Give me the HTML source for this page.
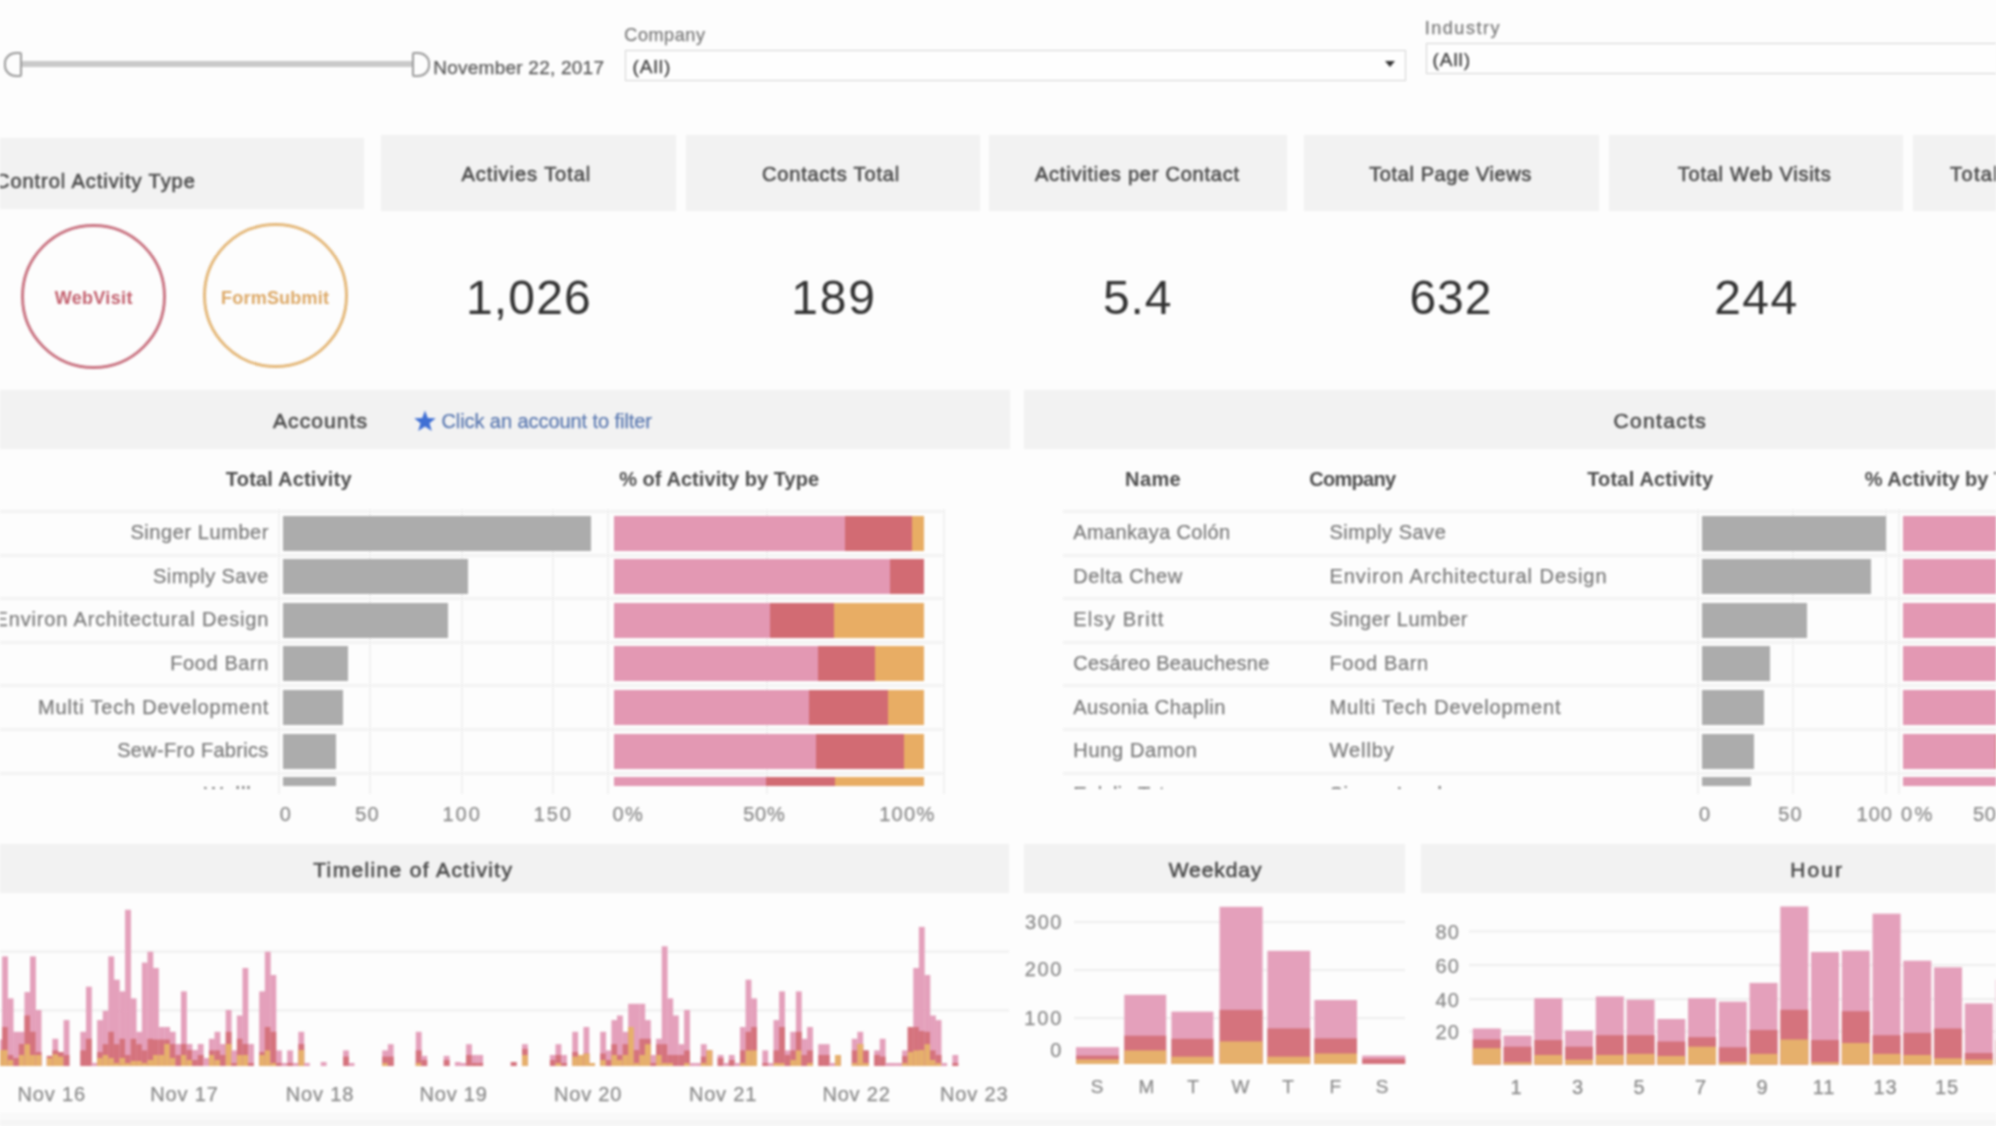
<!DOCTYPE html>
<html><head><meta charset="utf-8"><style>
html,body{margin:0;padding:0;}
body{width:1996px;height:1126px;overflow:hidden;position:relative;background:#fdfdfd;font-family:"Liberation Sans", sans-serif;}
#wrap{position:absolute;left:0;top:0;width:1996px;height:1126px;overflow:hidden;filter:blur(1px);}
</style></head><body><div id="wrap">
<div style="position:absolute;left:21.0px;top:61.0px;width:391.0px;height:5.5px;background:#c9c9c9;"></div>
<div style="position:absolute;left:4px;top:52px;width:14px;height:21px;border:2px solid #9a9a9a;border-radius:12px 2px 2px 12px/11px 2px 2px 11px;background:#fdfdfd"></div>
<div style="position:absolute;left:412px;top:52px;width:14px;height:21px;border:2px solid #9a9a9a;border-radius:2px 12px 12px 2px/2px 11px 11px 2px;background:#fdfdfd"></div>
<div style="position:absolute;left:433.3px;top:58.4px;font-size:19px;line-height:19px;height:19px;color:#595959;font-weight:400;letter-spacing:0.238px;white-space:nowrap;-webkit-text-stroke:0.25px #595959;">November 22, 2017</div>
<div style="position:absolute;left:624.3px;top:25.8px;font-size:18px;line-height:18px;height:18px;color:#7a7a7a;font-weight:400;letter-spacing:0.6px;white-space:nowrap;-webkit-text-stroke:0.25px #7a7a7a;">Company</div>
<div style="position:absolute;left:625px;top:50px;width:779px;height:29px;border:1.5px solid #d4d4d4;background:#fefefe"></div>
<div style="position:absolute;left:632.5px;top:56.9px;font-size:19px;line-height:19px;height:19px;color:#3a3a3a;font-weight:400;letter-spacing:1.0px;white-space:nowrap;-webkit-text-stroke:0.25px #3a3a3a;">(All)</div>
<div style="position:absolute;left:1385px;top:61px;width:0;height:0;border-left:5px solid transparent;border-right:5px solid transparent;border-top:6px solid #333"></div>
<div style="position:absolute;left:1424.8px;top:18.8px;font-size:18px;line-height:18px;height:18px;color:#7a7a7a;font-weight:400;letter-spacing:1.514px;white-space:nowrap;-webkit-text-stroke:0.25px #7a7a7a;">Industry</div>
<div style="position:absolute;left:1426px;top:43px;width:600px;height:29px;border:1.5px solid #d4d4d4;background:#fefefe"></div>
<div style="position:absolute;left:1432.4px;top:49.9px;font-size:19px;line-height:19px;height:19px;color:#3a3a3a;font-weight:400;letter-spacing:1.0px;white-space:nowrap;-webkit-text-stroke:0.25px #3a3a3a;">(All)</div>
<div style="position:absolute;left:0.0px;top:138.0px;width:364.0px;height:70.5px;background:#f2f2f2;"></div>
<div style="position:absolute;left:380.5px;top:135.0px;width:295.5px;height:76.0px;background:#f2f2f2;"></div>
<div style="position:absolute;left:-73.7px;width:1200px;text-align:center;top:164.1px;font-size:20px;line-height:20px;height:20px;color:#4d4d4d;font-weight:400;letter-spacing:0.954px;white-space:nowrap;-webkit-text-stroke:0.6px #4d4d4d;">Activies Total</div>
<div style="position:absolute;left:686.4px;top:135.0px;width:294.1px;height:76.0px;background:#f2f2f2;"></div>
<div style="position:absolute;left:231.0px;width:1200px;text-align:center;top:164.1px;font-size:20px;line-height:20px;height:20px;color:#4d4d4d;font-weight:400;letter-spacing:0.838px;white-space:nowrap;-webkit-text-stroke:0.6px #4d4d4d;">Contacts Total</div>
<div style="position:absolute;left:989.3px;top:135.0px;width:297.3px;height:76.0px;background:#f2f2f2;"></div>
<div style="position:absolute;left:537.4px;width:1200px;text-align:center;top:164.1px;font-size:20px;line-height:20px;height:20px;color:#4d4d4d;font-weight:400;letter-spacing:0.771px;white-space:nowrap;-webkit-text-stroke:0.6px #4d4d4d;">Activities per Contact</div>
<div style="position:absolute;left:1304.0px;top:135.0px;width:295.0px;height:76.0px;background:#f2f2f2;"></div>
<div style="position:absolute;left:850.6px;width:1200px;text-align:center;top:164.1px;font-size:20px;line-height:20px;height:20px;color:#4d4d4d;font-weight:400;letter-spacing:0.6px;white-space:nowrap;-webkit-text-stroke:0.6px #4d4d4d;">Total Page Views</div>
<div style="position:absolute;left:1609.3px;top:135.0px;width:293.7px;height:76.0px;background:#f2f2f2;"></div>
<div style="position:absolute;left:1154.6px;width:1200px;text-align:center;top:164.1px;font-size:20px;line-height:20px;height:20px;color:#4d4d4d;font-weight:400;letter-spacing:0.753px;white-space:nowrap;-webkit-text-stroke:0.6px #4d4d4d;">Total Web Visits</div>
<div style="position:absolute;left:-71.1px;width:1200px;text-align:center;top:273.9px;font-size:48px;line-height:48px;height:48px;color:#333;font-weight:300;letter-spacing:1.15px;white-space:nowrap;">1,026</div>
<div style="position:absolute;left:234.1px;width:1200px;text-align:center;top:273.9px;font-size:48px;line-height:48px;height:48px;color:#333;font-weight:300;letter-spacing:1.85px;white-space:nowrap;">189</div>
<div style="position:absolute;left:537.6px;width:1200px;text-align:center;top:273.9px;font-size:48px;line-height:48px;height:48px;color:#333;font-weight:300;letter-spacing:0.8px;white-space:nowrap;">5.4</div>
<div style="position:absolute;left:850.9px;width:1200px;text-align:center;top:273.9px;font-size:48px;line-height:48px;height:48px;color:#333;font-weight:300;letter-spacing:0.85px;white-space:nowrap;">632</div>
<div style="position:absolute;left:1156.4px;width:1200px;text-align:center;top:273.9px;font-size:48px;line-height:48px;height:48px;color:#333;font-weight:300;letter-spacing:1.35px;white-space:nowrap;">244</div>
<div style="position:absolute;left:1913.4px;top:135.0px;width:200.0px;height:76.0px;background:#f2f2f2;"></div>
<div style="position:absolute;left:1950.0px;top:164.1px;font-size:20px;line-height:20px;height:20px;color:#4d4d4d;font-weight:400;letter-spacing:1.377px;white-space:nowrap;-webkit-text-stroke:0.6px #4d4d4d;">Total Activity</div>
<div style="position:absolute;left:-5.0px;top:171.1px;font-size:20px;line-height:20px;height:20px;color:#4d4d4d;font-weight:400;letter-spacing:0.95px;white-space:nowrap;-webkit-text-stroke:0.6px #4d4d4d;">Control Activity Type</div>
<div style="position:absolute;left:21.0px;top:223.5px;width:139px;height:139px;border:3px solid #c97482;border-radius:50%"></div>
<div style="position:absolute;left:-506.3px;width:1200px;text-align:center;top:288.6px;font-size:18px;line-height:18px;height:18px;color:#c2606e;font-weight:700;letter-spacing:0.343px;white-space:nowrap;">WebVisit</div>
<div style="position:absolute;left:202.5px;top:222.5px;width:139px;height:139px;border:3px solid #e4b87a;border-radius:50%"></div>
<div style="position:absolute;left:-324.9px;width:1200px;text-align:center;top:288.6px;font-size:18px;line-height:18px;height:18px;color:#dca866;font-weight:700;letter-spacing:0.222px;white-space:nowrap;">FormSubmit</div>
<div style="position:absolute;left:0.0px;top:390.0px;width:1009.7px;height:59.0px;background:#f2f2f2;"></div>
<div style="position:absolute;left:1023.5px;top:390.0px;width:1000.0px;height:59.0px;background:#f2f2f2;"></div>
<div style="position:absolute;left:273.0px;top:410.2px;font-size:21px;line-height:21px;height:21px;color:#4d4d4d;font-weight:400;letter-spacing:1.071px;white-space:nowrap;-webkit-text-stroke:0.6px #4d4d4d;">Accounts</div>
<svg style="position:absolute;left:413px;top:410px" width="24" height="22" viewBox="0 0 24 22"><polygon points="12,0.5 14.8,8 22.8,8.2 16.5,13.2 18.8,21 12,16.5 5.2,21 7.5,13.2 1.2,8.2 9.2,8" fill="#3f6fd4"/></svg>
<div style="position:absolute;left:441.4px;top:411.1px;font-size:20px;line-height:20px;height:20px;color:#5a78b0;font-weight:400;letter-spacing:-0.068px;white-space:nowrap;-webkit-text-stroke:0.25px #5a78b0;">Click an account to filter</div>
<div style="position:absolute;left:1060.3px;width:1200px;text-align:center;top:410.2px;font-size:21px;line-height:21px;height:21px;color:#4d4d4d;font-weight:400;letter-spacing:1.371px;white-space:nowrap;-webkit-text-stroke:0.6px #4d4d4d;">Contacts</div>
<div style="position:absolute;left:-311.2px;width:1200px;text-align:center;top:469.1px;font-size:20px;line-height:20px;height:20px;color:#4d4d4d;font-weight:700;letter-spacing:0.185px;white-space:nowrap;">Total Activity</div>
<div style="position:absolute;left:119.2px;width:1200px;text-align:center;top:469.1px;font-size:20px;line-height:20px;height:20px;color:#4d4d4d;font-weight:700;letter-spacing:0.055px;white-space:nowrap;">% of Activity by Type</div>
<div style="position:absolute;left:0.0px;top:510.0px;width:943.0px;height:3.0px;background:#f3f3f3;"></div>
<div style="position:absolute;left:0.0px;top:553.6px;width:943.0px;height:3.0px;background:#f3f3f3;"></div>
<div style="position:absolute;left:0.0px;top:597.2px;width:943.0px;height:3.0px;background:#f3f3f3;"></div>
<div style="position:absolute;left:0.0px;top:640.8px;width:943.0px;height:3.0px;background:#f3f3f3;"></div>
<div style="position:absolute;left:0.0px;top:684.4px;width:943.0px;height:3.0px;background:#f3f3f3;"></div>
<div style="position:absolute;left:0.0px;top:728.0px;width:943.0px;height:3.0px;background:#f3f3f3;"></div>
<div style="position:absolute;left:0.0px;top:771.6px;width:943.0px;height:3.0px;background:#f3f3f3;"></div>
<div style="position:absolute;left:278.0px;top:509.0px;width:1.5px;height:285.0px;background:#f2f2f2;"></div>
<div style="position:absolute;left:369.0px;top:509.0px;width:1.5px;height:285.0px;background:#f2f2f2;"></div>
<div style="position:absolute;left:461.0px;top:509.0px;width:1.5px;height:285.0px;background:#f2f2f2;"></div>
<div style="position:absolute;left:552.0px;top:509.0px;width:1.5px;height:285.0px;background:#f2f2f2;"></div>
<div style="position:absolute;left:607.0px;top:509.0px;width:1.5px;height:285.0px;background:#f2f2f2;"></div>
<div style="position:absolute;left:766.0px;top:509.0px;width:1.5px;height:285.0px;background:#f2f2f2;"></div>
<div style="position:absolute;left:943.0px;top:509.0px;width:1.5px;height:285.0px;background:#f2f2f2;"></div>
<div style="position:absolute;left:283.0px;top:515.5px;width:308.0px;height:35.0px;background:#acacac;"></div>
<div style="position:absolute;left:613.5px;top:515.5px;width:231.2px;height:35.0px;background:#e398b3;"></div>
<div style="position:absolute;left:844.7px;top:515.5px;width:67.6px;height:35.0px;background:#d26b73;"></div>
<div style="position:absolute;left:912.3px;top:515.5px;width:11.7px;height:35.0px;background:#e8ad64;"></div>
<div style="position:absolute;right:1727.0px;text-align:right;top:522.1px;font-size:20px;line-height:20px;height:20px;color:#7b7b7b;font-weight:400;letter-spacing:0.567px;white-space:nowrap;-webkit-text-stroke:0.25px #7b7b7b;">Singer Lumber</div>
<div style="position:absolute;left:283.0px;top:559.1px;width:185.0px;height:35.0px;background:#acacac;"></div>
<div style="position:absolute;left:613.5px;top:559.1px;width:276.9px;height:35.0px;background:#e398b3;"></div>
<div style="position:absolute;left:890.4px;top:559.1px;width:34.0px;height:35.0px;background:#d26b73;"></div>
<div style="position:absolute;left:924.4px;top:559.1px;width:-0.4px;height:35.0px;background:#e8ad64;"></div>
<div style="position:absolute;right:1727.2px;text-align:right;top:565.7px;font-size:20px;line-height:20px;height:20px;color:#7b7b7b;font-weight:400;letter-spacing:0.42px;white-space:nowrap;-webkit-text-stroke:0.25px #7b7b7b;">Simply Save</div>
<div style="position:absolute;left:283.0px;top:602.7px;width:165.0px;height:35.0px;background:#acacac;"></div>
<div style="position:absolute;left:613.5px;top:602.7px;width:156.8px;height:35.0px;background:#e398b3;"></div>
<div style="position:absolute;left:770.3px;top:602.7px;width:64.0px;height:35.0px;background:#d26b73;"></div>
<div style="position:absolute;left:834.3px;top:602.7px;width:89.7px;height:35.0px;background:#e8ad64;"></div>
<div style="position:absolute;right:1726.8px;text-align:right;top:609.3px;font-size:20px;line-height:20px;height:20px;color:#7b7b7b;font-weight:400;letter-spacing:0.837px;white-space:nowrap;-webkit-text-stroke:0.25px #7b7b7b;">Environ Architectural Design</div>
<div style="position:absolute;left:283.0px;top:646.3px;width:65.0px;height:35.0px;background:#acacac;"></div>
<div style="position:absolute;left:613.5px;top:646.3px;width:204.5px;height:35.0px;background:#e398b3;"></div>
<div style="position:absolute;left:818.0px;top:646.3px;width:57.2px;height:35.0px;background:#d26b73;"></div>
<div style="position:absolute;left:875.2px;top:646.3px;width:48.8px;height:35.0px;background:#e8ad64;"></div>
<div style="position:absolute;right:1727.0px;text-align:right;top:652.9px;font-size:20px;line-height:20px;height:20px;color:#7b7b7b;font-weight:400;letter-spacing:0.588px;white-space:nowrap;-webkit-text-stroke:0.25px #7b7b7b;">Food Barn</div>
<div style="position:absolute;left:283.0px;top:689.9px;width:60.0px;height:35.0px;background:#acacac;"></div>
<div style="position:absolute;left:613.5px;top:689.9px;width:195.9px;height:35.0px;background:#e398b3;"></div>
<div style="position:absolute;left:809.4px;top:689.9px;width:78.6px;height:35.0px;background:#d26b73;"></div>
<div style="position:absolute;left:888.0px;top:689.9px;width:36.0px;height:35.0px;background:#e8ad64;"></div>
<div style="position:absolute;right:1726.8px;text-align:right;top:696.5px;font-size:20px;line-height:20px;height:20px;color:#7b7b7b;font-weight:400;letter-spacing:0.819px;white-space:nowrap;-webkit-text-stroke:0.25px #7b7b7b;">Multi Tech Development</div>
<div style="position:absolute;left:283.0px;top:733.5px;width:53.0px;height:35.0px;background:#acacac;"></div>
<div style="position:absolute;left:613.5px;top:733.5px;width:202.5px;height:35.0px;background:#e398b3;"></div>
<div style="position:absolute;left:816.0px;top:733.5px;width:87.6px;height:35.0px;background:#d26b73;"></div>
<div style="position:absolute;left:903.6px;top:733.5px;width:20.4px;height:35.0px;background:#e8ad64;"></div>
<div style="position:absolute;right:1727.3px;text-align:right;top:740.1px;font-size:20px;line-height:20px;height:20px;color:#7b7b7b;font-weight:400;letter-spacing:0.321px;white-space:nowrap;-webkit-text-stroke:0.25px #7b7b7b;">Sew-Fro Fabrics</div>
<div style="position:absolute;left:283.0px;top:777.1px;width:53.0px;height:9.0px;background:#acacac;"></div>
<div style="position:absolute;left:613.5px;top:777.1px;width:152.3px;height:9.0px;background:#e398b3;"></div>
<div style="position:absolute;left:765.8px;top:777.1px;width:69.2px;height:9.0px;background:#d26b73;"></div>
<div style="position:absolute;left:835.0px;top:777.1px;width:89.0px;height:9.0px;background:#e8ad64;"></div>
<div style="position:absolute;left:-314.7px;width:1200px;text-align:center;top:803.9px;font-size:20px;line-height:20px;height:20px;color:#8a8a8a;font-weight:400;white-space:nowrap;-webkit-text-stroke:0.25px #8a8a8a;">0</div>
<div style="position:absolute;left:-232.5px;width:1200px;text-align:center;top:803.9px;font-size:20px;line-height:20px;height:20px;color:#8a8a8a;font-weight:400;letter-spacing:1.2px;white-space:nowrap;-webkit-text-stroke:0.25px #8a8a8a;">50</div>
<div style="position:absolute;left:-137.9px;width:1200px;text-align:center;top:803.9px;font-size:20px;line-height:20px;height:20px;color:#8a8a8a;font-weight:400;letter-spacing:2.0px;white-space:nowrap;-webkit-text-stroke:0.25px #8a8a8a;">100</div>
<div style="position:absolute;left:-46.7px;width:1200px;text-align:center;top:803.9px;font-size:20px;line-height:20px;height:20px;color:#8a8a8a;font-weight:400;letter-spacing:1.95px;white-space:nowrap;-webkit-text-stroke:0.25px #8a8a8a;">150</div>
<div style="position:absolute;left:612.4px;top:803.9px;font-size:20px;line-height:20px;height:20px;color:#8a8a8a;font-weight:400;letter-spacing:1.4px;white-space:nowrap;-webkit-text-stroke:0.25px #8a8a8a;">0%</div>
<div style="position:absolute;left:164.4px;width:1200px;text-align:center;top:803.9px;font-size:20px;line-height:20px;height:20px;color:#8a8a8a;font-weight:400;letter-spacing:0.75px;white-space:nowrap;-webkit-text-stroke:0.25px #8a8a8a;">50%</div>
<div style="position:absolute;right:1060.5px;text-align:right;top:803.9px;font-size:20px;line-height:20px;height:20px;color:#8a8a8a;font-weight:400;letter-spacing:1.3px;white-space:nowrap;-webkit-text-stroke:0.25px #8a8a8a;">100%</div>
<div style="position:absolute;left:553.1px;width:1200px;text-align:center;top:469.1px;font-size:20px;line-height:20px;height:20px;color:#4d4d4d;font-weight:700;letter-spacing:0.367px;white-space:nowrap;">Name</div>
<div style="position:absolute;left:752.3px;width:1200px;text-align:center;top:469.1px;font-size:20px;line-height:20px;height:20px;color:#4d4d4d;font-weight:700;letter-spacing:-0.683px;white-space:nowrap;">Company</div>
<div style="position:absolute;left:1050.2px;width:1200px;text-align:center;top:469.1px;font-size:20px;line-height:20px;height:20px;color:#4d4d4d;font-weight:700;letter-spacing:0.192px;white-space:nowrap;">Total Activity</div>
<div style="position:absolute;left:1864.7px;top:469.1px;font-size:20px;line-height:20px;height:20px;color:#4d4d4d;font-weight:700;white-space:nowrap;">% Activity by Type</div>
<div style="position:absolute;left:1063.0px;top:510.0px;width:940.0px;height:3.0px;background:#f3f3f3;"></div>
<div style="position:absolute;left:1063.0px;top:553.6px;width:940.0px;height:3.0px;background:#f3f3f3;"></div>
<div style="position:absolute;left:1063.0px;top:597.2px;width:940.0px;height:3.0px;background:#f3f3f3;"></div>
<div style="position:absolute;left:1063.0px;top:640.8px;width:940.0px;height:3.0px;background:#f3f3f3;"></div>
<div style="position:absolute;left:1063.0px;top:684.4px;width:940.0px;height:3.0px;background:#f3f3f3;"></div>
<div style="position:absolute;left:1063.0px;top:728.0px;width:940.0px;height:3.0px;background:#f3f3f3;"></div>
<div style="position:absolute;left:1063.0px;top:771.6px;width:940.0px;height:3.0px;background:#f3f3f3;"></div>
<div style="position:absolute;left:1697.0px;top:509.0px;width:1.5px;height:285.0px;background:#f2f2f2;"></div>
<div style="position:absolute;left:1792.0px;top:509.0px;width:1.5px;height:285.0px;background:#f2f2f2;"></div>
<div style="position:absolute;left:1885.0px;top:509.0px;width:1.5px;height:285.0px;background:#f2f2f2;"></div>
<div style="position:absolute;left:1898.0px;top:509.0px;width:1.5px;height:285.0px;background:#f2f2f2;"></div>
<div style="position:absolute;left:1702.0px;top:515.5px;width:184.0px;height:35.0px;background:#acacac;"></div>
<div style="position:absolute;left:1903.0px;top:515.5px;width:200.0px;height:35.0px;background:#e398b3;"></div>
<div style="position:absolute;left:1073.3px;top:522.1px;font-size:20px;line-height:20px;height:20px;color:#7b7b7b;font-weight:400;letter-spacing:0.354px;white-space:nowrap;-webkit-text-stroke:0.25px #7b7b7b;">Amankaya Colón</div>
<div style="position:absolute;left:1329.5px;top:522.1px;font-size:20px;line-height:20px;height:20px;color:#7b7b7b;font-weight:400;letter-spacing:0.51px;white-space:nowrap;-webkit-text-stroke:0.25px #7b7b7b;">Simply Save</div>
<div style="position:absolute;left:1702.0px;top:559.1px;width:168.6px;height:35.0px;background:#acacac;"></div>
<div style="position:absolute;left:1903.0px;top:559.1px;width:200.0px;height:35.0px;background:#e398b3;"></div>
<div style="position:absolute;left:1073.3px;top:565.7px;font-size:20px;line-height:20px;height:20px;color:#7b7b7b;font-weight:400;letter-spacing:0.611px;white-space:nowrap;-webkit-text-stroke:0.25px #7b7b7b;">Delta Chew</div>
<div style="position:absolute;left:1329.5px;top:565.7px;font-size:20px;line-height:20px;height:20px;color:#7b7b7b;font-weight:400;letter-spacing:0.956px;white-space:nowrap;-webkit-text-stroke:0.25px #7b7b7b;">Environ Architectural Design</div>
<div style="position:absolute;left:1702.0px;top:602.7px;width:104.6px;height:35.0px;background:#acacac;"></div>
<div style="position:absolute;left:1903.0px;top:602.7px;width:200.0px;height:35.0px;background:#e398b3;"></div>
<div style="position:absolute;left:1073.3px;top:609.3px;font-size:20px;line-height:20px;height:20px;color:#7b7b7b;font-weight:400;letter-spacing:1.233px;white-space:nowrap;-webkit-text-stroke:0.25px #7b7b7b;">Elsy Britt</div>
<div style="position:absolute;left:1329.5px;top:609.3px;font-size:20px;line-height:20px;height:20px;color:#7b7b7b;font-weight:400;letter-spacing:0.567px;white-space:nowrap;-webkit-text-stroke:0.25px #7b7b7b;">Singer Lumber</div>
<div style="position:absolute;left:1702.0px;top:646.3px;width:67.5px;height:35.0px;background:#acacac;"></div>
<div style="position:absolute;left:1903.0px;top:646.3px;width:200.0px;height:35.0px;background:#e398b3;"></div>
<div style="position:absolute;left:1073.3px;top:652.9px;font-size:20px;line-height:20px;height:20px;color:#7b7b7b;font-weight:400;letter-spacing:0.212px;white-space:nowrap;-webkit-text-stroke:0.25px #7b7b7b;">Cesáreo Beauchesne</div>
<div style="position:absolute;left:1329.5px;top:652.9px;font-size:20px;line-height:20px;height:20px;color:#7b7b7b;font-weight:400;letter-spacing:0.65px;white-space:nowrap;-webkit-text-stroke:0.25px #7b7b7b;">Food Barn</div>
<div style="position:absolute;left:1702.0px;top:689.9px;width:62.4px;height:35.0px;background:#acacac;"></div>
<div style="position:absolute;left:1903.0px;top:689.9px;width:200.0px;height:35.0px;background:#e398b3;"></div>
<div style="position:absolute;left:1073.3px;top:696.5px;font-size:20px;line-height:20px;height:20px;color:#7b7b7b;font-weight:400;letter-spacing:0.457px;white-space:nowrap;-webkit-text-stroke:0.25px #7b7b7b;">Ausonia Chaplin</div>
<div style="position:absolute;left:1329.5px;top:696.5px;font-size:20px;line-height:20px;height:20px;color:#7b7b7b;font-weight:400;letter-spacing:0.857px;white-space:nowrap;-webkit-text-stroke:0.25px #7b7b7b;">Multi Tech Development</div>
<div style="position:absolute;left:1702.0px;top:733.5px;width:52.4px;height:35.0px;background:#acacac;"></div>
<div style="position:absolute;left:1903.0px;top:733.5px;width:200.0px;height:35.0px;background:#e398b3;"></div>
<div style="position:absolute;left:1994.5px;top:733.5px;width:5.0px;height:35.0px;background:#d26b73;"></div>
<div style="position:absolute;left:1073.3px;top:740.1px;font-size:20px;line-height:20px;height:20px;color:#7b7b7b;font-weight:400;letter-spacing:0.644px;white-space:nowrap;-webkit-text-stroke:0.25px #7b7b7b;">Hung Damon</div>
<div style="position:absolute;left:1329.5px;top:740.1px;font-size:20px;line-height:20px;height:20px;color:#7b7b7b;font-weight:400;letter-spacing:0.94px;white-space:nowrap;-webkit-text-stroke:0.25px #7b7b7b;">Wellby</div>
<div style="position:absolute;left:1702.0px;top:777.1px;width:48.6px;height:8.5px;background:#acacac;"></div>
<div style="position:absolute;left:1903.0px;top:777.1px;width:200.0px;height:8.5px;background:#e398b3;"></div>
<div style="position:absolute;left:1104.5px;width:1200px;text-align:center;top:803.9px;font-size:20px;line-height:20px;height:20px;color:#8a8a8a;font-weight:400;white-space:nowrap;-webkit-text-stroke:0.25px #8a8a8a;">0</div>
<div style="position:absolute;left:1190.6px;width:1200px;text-align:center;top:803.9px;font-size:20px;line-height:20px;height:20px;color:#8a8a8a;font-weight:400;letter-spacing:1.2px;white-space:nowrap;-webkit-text-stroke:0.25px #8a8a8a;">50</div>
<div style="position:absolute;right:103.0px;text-align:right;top:803.9px;font-size:20px;line-height:20px;height:20px;color:#8a8a8a;font-weight:400;letter-spacing:1.05px;white-space:nowrap;-webkit-text-stroke:0.25px #8a8a8a;">100</div>
<div style="position:absolute;left:1901.0px;top:803.9px;font-size:20px;line-height:20px;height:20px;color:#8a8a8a;font-weight:400;letter-spacing:2.5px;white-space:nowrap;-webkit-text-stroke:0.25px #8a8a8a;">0%</div>
<div style="position:absolute;left:1973.0px;top:803.9px;font-size:20px;line-height:20px;height:20px;color:#8a8a8a;font-weight:400;letter-spacing:0.75px;white-space:nowrap;-webkit-text-stroke:0.25px #8a8a8a;">50%</div>
<div style="position:absolute;left:0.0px;top:843.5px;width:1009.0px;height:49.5px;background:#f2f2f2;"></div>
<div style="position:absolute;left:1024.0px;top:843.5px;width:381.3px;height:49.5px;background:#f2f2f2;"></div>
<div style="position:absolute;left:1421.0px;top:843.5px;width:600.0px;height:49.5px;background:#f2f2f2;"></div>
<div style="position:absolute;left:-186.7px;width:1200px;text-align:center;top:858.7px;font-size:21px;line-height:21px;height:21px;color:#4d4d4d;font-weight:400;letter-spacing:1.353px;white-space:nowrap;-webkit-text-stroke:0.6px #4d4d4d;">Timeline of Activity</div>
<div style="position:absolute;left:615.5px;width:1200px;text-align:center;top:858.7px;font-size:21px;line-height:21px;height:21px;color:#4d4d4d;font-weight:400;letter-spacing:0.933px;white-space:nowrap;-webkit-text-stroke:0.6px #4d4d4d;">Weekday</div>
<div style="position:absolute;left:1217.2px;width:1200px;text-align:center;top:858.7px;font-size:21px;line-height:21px;height:21px;color:#4d4d4d;font-weight:400;letter-spacing:2.1px;white-space:nowrap;-webkit-text-stroke:0.6px #4d4d4d;">Hour</div>
<div style="position:absolute;left:0.0px;top:1113.0px;width:1996.0px;height:7.0px;background:#f9f9f9;"></div>
<div style="position:absolute;left:0.0px;top:1120.0px;width:1996.0px;height:6.0px;background:#f5f5f5;"></div>
<div style="position:absolute;left:0;top:785px;width:1996px;height:4px;overflow:hidden"><div style="position:absolute;left:0;top:-785px;width:1996px;height:1126px"><div style="position:absolute;right:1726.7px;text-align:right;top:783.7px;font-size:20px;line-height:20px;height:20px;color:#7b7b7b;font-weight:400;letter-spacing:0.94px;white-space:nowrap;-webkit-text-stroke:0.25px #7b7b7b;">Wellby</div><div style="position:absolute;left:1073.3px;top:783.7px;font-size:20px;line-height:20px;height:20px;color:#7b7b7b;font-weight:400;letter-spacing:-0.055px;white-space:nowrap;-webkit-text-stroke:0.25px #7b7b7b;">Eulalia Tate</div><div style="position:absolute;left:1329.5px;top:783.7px;font-size:20px;line-height:20px;height:20px;color:#7b7b7b;font-weight:400;letter-spacing:0.567px;white-space:nowrap;-webkit-text-stroke:0.25px #7b7b7b;">Singer Lumber</div></div></div>
<svg style="position:absolute;left:0;top:0" width="1996" height="1126" viewBox="0 0 1996 1126"><rect x="0.00" y="950.50" width="1009.00" height="2.20" fill="#efefef"/><rect x="0.00" y="1009.30" width="1009.00" height="2.20" fill="#efefef"/><rect x="0.00" y="1039.50" width="2.35" height="26.50" fill="#e4a0bb"/><rect x="0.00" y="1050.00" width="2.35" height="16.00" fill="#d5737d"/><rect x="0.00" y="1050.00" width="2.35" height="16.00" fill="#e6b06c"/><rect x="2.10" y="956.40" width="5.84" height="109.60" fill="#e4a0bb"/><rect x="2.10" y="1027.00" width="5.84" height="39.00" fill="#d5737d"/><rect x="2.10" y="1050.00" width="5.84" height="16.00" fill="#e6b06c"/><rect x="7.69" y="998.40" width="5.84" height="67.60" fill="#e4a0bb"/><rect x="7.69" y="1055.00" width="5.84" height="11.00" fill="#d5737d"/><rect x="7.69" y="1060.00" width="5.84" height="6.00" fill="#e6b06c"/><rect x="13.28" y="1031.80" width="5.84" height="34.20" fill="#e4a0bb"/><rect x="13.28" y="1058.00" width="5.84" height="8.00" fill="#d5737d"/><rect x="18.87" y="1031.80" width="5.84" height="34.20" fill="#e4a0bb"/><rect x="18.87" y="1044.00" width="5.84" height="22.00" fill="#d5737d"/><rect x="18.87" y="1055.00" width="5.84" height="11.00" fill="#e6b06c"/><rect x="24.46" y="992.10" width="5.84" height="73.90" fill="#e4a0bb"/><rect x="24.46" y="1015.50" width="5.84" height="50.50" fill="#d5737d"/><rect x="24.46" y="1044.20" width="5.84" height="21.80" fill="#e6b06c"/><rect x="30.05" y="956.40" width="5.84" height="109.60" fill="#e4a0bb"/><rect x="30.05" y="1031.80" width="5.84" height="34.20" fill="#d5737d"/><rect x="30.05" y="1055.00" width="5.84" height="11.00" fill="#e6b06c"/><rect x="35.64" y="1010.00" width="5.84" height="56.00" fill="#e4a0bb"/><rect x="35.64" y="1052.00" width="5.84" height="14.00" fill="#d5737d"/><rect x="35.64" y="1055.00" width="5.84" height="11.00" fill="#e6b06c"/><rect x="46.82" y="1055.90" width="5.84" height="10.10" fill="#e4a0bb"/><rect x="46.82" y="1055.90" width="5.84" height="10.10" fill="#d5737d"/><rect x="46.82" y="1058.00" width="5.84" height="8.00" fill="#e6b06c"/><rect x="52.41" y="1038.80" width="5.84" height="27.20" fill="#e4a0bb"/><rect x="52.41" y="1050.40" width="5.84" height="15.60" fill="#d5737d"/><rect x="52.41" y="1054.30" width="5.84" height="11.70" fill="#e6b06c"/><rect x="58.00" y="1052.00" width="5.84" height="14.00" fill="#e4a0bb"/><rect x="58.00" y="1052.00" width="5.84" height="14.00" fill="#d5737d"/><rect x="58.00" y="1056.60" width="5.84" height="9.40" fill="#e6b06c"/><rect x="63.59" y="1020.10" width="5.84" height="45.90" fill="#e4a0bb"/><rect x="63.59" y="1055.00" width="5.84" height="11.00" fill="#d5737d"/><rect x="80.36" y="1031.80" width="5.84" height="34.20" fill="#e4a0bb"/><rect x="80.36" y="1050.40" width="5.84" height="15.60" fill="#d5737d"/><rect x="85.95" y="986.70" width="5.84" height="79.30" fill="#e4a0bb"/><rect x="85.95" y="1038.80" width="5.84" height="27.20" fill="#d5737d"/><rect x="91.54" y="1062.90" width="5.84" height="3.10" fill="#e4a0bb"/><rect x="97.13" y="1020.10" width="5.84" height="45.90" fill="#e4a0bb"/><rect x="97.13" y="1052.00" width="5.84" height="14.00" fill="#d5737d"/><rect x="97.13" y="1058.00" width="5.84" height="8.00" fill="#e6b06c"/><rect x="102.72" y="1010.80" width="5.84" height="55.20" fill="#e4a0bb"/><rect x="102.72" y="1044.20" width="5.84" height="21.80" fill="#d5737d"/><rect x="102.72" y="1055.00" width="5.84" height="11.00" fill="#e6b06c"/><rect x="108.31" y="956.40" width="5.84" height="109.60" fill="#e4a0bb"/><rect x="108.31" y="1031.80" width="5.84" height="34.20" fill="#d5737d"/><rect x="108.31" y="1058.00" width="5.84" height="8.00" fill="#e6b06c"/><rect x="113.90" y="979.70" width="5.84" height="86.30" fill="#e4a0bb"/><rect x="113.90" y="1044.20" width="5.84" height="21.80" fill="#d5737d"/><rect x="113.90" y="1063.00" width="5.84" height="3.00" fill="#e6b06c"/><rect x="119.49" y="991.40" width="5.84" height="74.60" fill="#e4a0bb"/><rect x="119.49" y="1038.80" width="5.84" height="27.20" fill="#d5737d"/><rect x="119.49" y="1058.00" width="5.84" height="8.00" fill="#e6b06c"/><rect x="125.08" y="909.80" width="5.84" height="156.20" fill="#e4a0bb"/><rect x="125.08" y="1055.00" width="5.84" height="11.00" fill="#d5737d"/><rect x="125.08" y="1063.00" width="5.84" height="3.00" fill="#e6b06c"/><rect x="130.67" y="998.40" width="5.84" height="67.60" fill="#e4a0bb"/><rect x="130.67" y="1038.80" width="5.84" height="27.20" fill="#d5737d"/><rect x="130.67" y="1061.00" width="5.84" height="5.00" fill="#e6b06c"/><rect x="136.26" y="1031.80" width="5.84" height="34.20" fill="#e4a0bb"/><rect x="136.26" y="1044.20" width="5.84" height="21.80" fill="#d5737d"/><rect x="136.26" y="1061.00" width="5.84" height="5.00" fill="#e6b06c"/><rect x="141.85" y="962.60" width="5.84" height="103.40" fill="#e4a0bb"/><rect x="141.85" y="1050.40" width="5.84" height="15.60" fill="#d5737d"/><rect x="141.85" y="1063.00" width="5.84" height="3.00" fill="#e6b06c"/><rect x="147.44" y="951.70" width="5.84" height="114.30" fill="#e4a0bb"/><rect x="147.44" y="1038.80" width="5.84" height="27.20" fill="#d5737d"/><rect x="147.44" y="1060.00" width="5.84" height="6.00" fill="#e6b06c"/><rect x="153.03" y="968.00" width="5.84" height="98.00" fill="#e4a0bb"/><rect x="153.03" y="1039.50" width="5.84" height="26.50" fill="#d5737d"/><rect x="153.03" y="1055.00" width="5.84" height="11.00" fill="#e6b06c"/><rect x="158.62" y="1027.00" width="5.84" height="39.00" fill="#e4a0bb"/><rect x="158.62" y="1039.50" width="5.84" height="26.50" fill="#d5737d"/><rect x="158.62" y="1055.00" width="5.84" height="11.00" fill="#e6b06c"/><rect x="164.21" y="1027.00" width="5.84" height="39.00" fill="#e4a0bb"/><rect x="164.21" y="1039.50" width="5.84" height="26.50" fill="#d5737d"/><rect x="164.21" y="1044.00" width="5.84" height="22.00" fill="#e6b06c"/><rect x="169.80" y="1031.80" width="5.84" height="34.20" fill="#e4a0bb"/><rect x="169.80" y="1044.00" width="5.84" height="22.00" fill="#d5737d"/><rect x="169.80" y="1058.00" width="5.84" height="8.00" fill="#e6b06c"/><rect x="175.39" y="1044.00" width="5.84" height="22.00" fill="#e4a0bb"/><rect x="175.39" y="1055.00" width="5.84" height="11.00" fill="#d5737d"/><rect x="180.98" y="991.40" width="5.84" height="74.60" fill="#e4a0bb"/><rect x="180.98" y="1044.00" width="5.84" height="22.00" fill="#d5737d"/><rect x="180.98" y="1055.00" width="5.84" height="11.00" fill="#e6b06c"/><rect x="186.57" y="1044.00" width="5.84" height="22.00" fill="#e4a0bb"/><rect x="186.57" y="1050.00" width="5.84" height="16.00" fill="#d5737d"/><rect x="186.57" y="1060.00" width="5.84" height="6.00" fill="#e6b06c"/><rect x="192.16" y="1050.00" width="5.84" height="16.00" fill="#e4a0bb"/><rect x="192.16" y="1060.00" width="5.84" height="6.00" fill="#d5737d"/><rect x="197.75" y="1044.00" width="5.84" height="22.00" fill="#e4a0bb"/><rect x="197.75" y="1055.00" width="5.84" height="11.00" fill="#d5737d"/><rect x="203.34" y="1058.00" width="5.84" height="8.00" fill="#e4a0bb"/><rect x="208.93" y="1038.80" width="5.84" height="27.20" fill="#e4a0bb"/><rect x="208.93" y="1050.40" width="5.84" height="15.60" fill="#d5737d"/><rect x="208.93" y="1055.00" width="5.84" height="11.00" fill="#e6b06c"/><rect x="214.52" y="1031.80" width="5.84" height="34.20" fill="#e4a0bb"/><rect x="214.52" y="1050.40" width="5.84" height="15.60" fill="#d5737d"/><rect x="214.52" y="1060.00" width="5.84" height="6.00" fill="#e6b06c"/><rect x="220.11" y="1044.00" width="5.84" height="22.00" fill="#e4a0bb"/><rect x="220.11" y="1055.00" width="5.84" height="11.00" fill="#d5737d"/><rect x="225.70" y="1010.00" width="5.84" height="56.00" fill="#e4a0bb"/><rect x="225.70" y="1031.80" width="5.84" height="34.20" fill="#d5737d"/><rect x="225.70" y="1044.00" width="5.84" height="22.00" fill="#e6b06c"/><rect x="231.29" y="1050.40" width="5.84" height="15.60" fill="#e4a0bb"/><rect x="231.29" y="1063.00" width="5.84" height="3.00" fill="#d5737d"/><rect x="236.88" y="1015.50" width="5.84" height="50.50" fill="#e4a0bb"/><rect x="236.88" y="1038.80" width="5.84" height="27.20" fill="#d5737d"/><rect x="236.88" y="1055.00" width="5.84" height="11.00" fill="#e6b06c"/><rect x="242.47" y="968.00" width="5.84" height="98.00" fill="#e4a0bb"/><rect x="242.47" y="1044.00" width="5.84" height="22.00" fill="#d5737d"/><rect x="242.47" y="1055.00" width="5.84" height="11.00" fill="#e6b06c"/><rect x="248.06" y="1044.00" width="5.84" height="22.00" fill="#e4a0bb"/><rect x="248.06" y="1063.00" width="5.84" height="3.00" fill="#d5737d"/><rect x="259.24" y="991.40" width="5.84" height="74.60" fill="#e4a0bb"/><rect x="259.24" y="1052.00" width="5.84" height="14.00" fill="#d5737d"/><rect x="259.24" y="1055.00" width="5.84" height="11.00" fill="#e6b06c"/><rect x="264.83" y="951.70" width="5.84" height="114.30" fill="#e4a0bb"/><rect x="264.83" y="1027.00" width="5.84" height="39.00" fill="#d5737d"/><rect x="264.83" y="1050.40" width="5.84" height="15.60" fill="#e6b06c"/><rect x="270.42" y="975.00" width="5.84" height="91.00" fill="#e4a0bb"/><rect x="270.42" y="1031.80" width="5.84" height="34.20" fill="#d5737d"/><rect x="270.42" y="1063.00" width="5.84" height="3.00" fill="#e6b06c"/><rect x="276.01" y="1050.40" width="5.84" height="15.60" fill="#e4a0bb"/><rect x="276.01" y="1063.00" width="5.84" height="3.00" fill="#d5737d"/><rect x="281.60" y="1063.00" width="5.84" height="3.00" fill="#e4a0bb"/><rect x="287.19" y="1050.40" width="5.84" height="15.60" fill="#e4a0bb"/><rect x="287.19" y="1063.00" width="5.84" height="3.00" fill="#d5737d"/><rect x="292.78" y="1063.00" width="5.84" height="3.00" fill="#e4a0bb"/><rect x="298.37" y="1031.80" width="5.84" height="34.20" fill="#e4a0bb"/><rect x="298.37" y="1044.00" width="5.84" height="22.00" fill="#d5737d"/><rect x="298.37" y="1050.00" width="5.84" height="16.00" fill="#e6b06c"/><rect x="303.96" y="1063.00" width="5.84" height="3.00" fill="#e4a0bb"/><rect x="320.73" y="1062.00" width="5.84" height="4.00" fill="#e4a0bb"/><rect x="343.09" y="1050.40" width="5.84" height="15.60" fill="#e4a0bb"/><rect x="343.09" y="1056.60" width="5.84" height="9.40" fill="#d5737d"/><rect x="348.68" y="1063.00" width="5.84" height="3.00" fill="#e4a0bb"/><rect x="382.22" y="1050.40" width="5.84" height="15.60" fill="#e4a0bb"/><rect x="382.22" y="1056.60" width="5.84" height="9.40" fill="#d5737d"/><rect x="382.22" y="1063.00" width="5.84" height="3.00" fill="#e6b06c"/><rect x="387.81" y="1044.20" width="5.84" height="21.80" fill="#e4a0bb"/><rect x="387.81" y="1056.60" width="5.84" height="9.40" fill="#d5737d"/><rect x="415.76" y="1031.80" width="5.84" height="34.20" fill="#e4a0bb"/><rect x="415.76" y="1050.40" width="5.84" height="15.60" fill="#d5737d"/><rect x="415.76" y="1063.00" width="5.84" height="3.00" fill="#e6b06c"/><rect x="421.35" y="1055.90" width="5.84" height="10.10" fill="#e4a0bb"/><rect x="421.35" y="1060.00" width="5.84" height="6.00" fill="#d5737d"/><rect x="443.71" y="1055.90" width="5.84" height="10.10" fill="#e4a0bb"/><rect x="443.71" y="1060.00" width="5.84" height="6.00" fill="#d5737d"/><rect x="454.89" y="1062.00" width="5.84" height="4.00" fill="#e4a0bb"/><rect x="460.48" y="1063.00" width="5.84" height="3.00" fill="#e4a0bb"/><rect x="466.07" y="1044.20" width="5.84" height="21.80" fill="#e4a0bb"/><rect x="466.07" y="1055.00" width="5.84" height="11.00" fill="#d5737d"/><rect x="471.66" y="1055.00" width="5.84" height="11.00" fill="#e4a0bb"/><rect x="471.66" y="1063.00" width="5.84" height="3.00" fill="#d5737d"/><rect x="477.25" y="1055.00" width="5.84" height="11.00" fill="#e4a0bb"/><rect x="477.25" y="1063.00" width="5.84" height="3.00" fill="#d5737d"/><rect x="510.79" y="1062.00" width="5.84" height="4.00" fill="#e4a0bb"/><rect x="510.79" y="1062.00" width="5.84" height="4.00" fill="#d5737d"/><rect x="521.97" y="1044.20" width="5.84" height="21.80" fill="#e4a0bb"/><rect x="521.97" y="1048.90" width="5.84" height="17.10" fill="#d5737d"/><rect x="521.97" y="1055.00" width="5.84" height="11.00" fill="#e6b06c"/><rect x="549.92" y="1055.00" width="5.84" height="11.00" fill="#e4a0bb"/><rect x="549.92" y="1060.00" width="5.84" height="6.00" fill="#d5737d"/><rect x="555.51" y="1044.20" width="5.84" height="21.80" fill="#e4a0bb"/><rect x="555.51" y="1055.00" width="5.84" height="11.00" fill="#d5737d"/><rect x="555.51" y="1063.00" width="5.84" height="3.00" fill="#e6b06c"/><rect x="561.10" y="1055.00" width="5.84" height="11.00" fill="#e4a0bb"/><rect x="561.10" y="1063.00" width="5.84" height="3.00" fill="#d5737d"/><rect x="572.28" y="1031.80" width="5.84" height="34.20" fill="#e4a0bb"/><rect x="572.28" y="1052.00" width="5.84" height="14.00" fill="#d5737d"/><rect x="572.28" y="1056.60" width="5.84" height="9.40" fill="#e6b06c"/><rect x="577.87" y="1055.00" width="5.84" height="11.00" fill="#e4a0bb"/><rect x="577.87" y="1055.00" width="5.84" height="11.00" fill="#d5737d"/><rect x="577.87" y="1055.00" width="5.84" height="11.00" fill="#e6b06c"/><rect x="583.46" y="1027.00" width="5.84" height="39.00" fill="#e4a0bb"/><rect x="583.46" y="1053.50" width="5.84" height="12.50" fill="#d5737d"/><rect x="583.46" y="1053.50" width="5.84" height="12.50" fill="#e6b06c"/><rect x="589.05" y="1063.00" width="5.84" height="3.00" fill="#e4a0bb"/><rect x="589.05" y="1063.00" width="5.84" height="3.00" fill="#d5737d"/><rect x="589.05" y="1063.00" width="5.84" height="3.00" fill="#e6b06c"/><rect x="600.23" y="1031.80" width="5.84" height="34.20" fill="#e4a0bb"/><rect x="600.23" y="1053.50" width="5.84" height="12.50" fill="#d5737d"/><rect x="600.23" y="1060.00" width="5.84" height="6.00" fill="#e6b06c"/><rect x="605.82" y="1050.40" width="5.84" height="15.60" fill="#e4a0bb"/><rect x="605.82" y="1060.00" width="5.84" height="6.00" fill="#d5737d"/><rect x="611.41" y="1020.10" width="5.84" height="45.90" fill="#e4a0bb"/><rect x="611.41" y="1044.20" width="5.84" height="21.80" fill="#d5737d"/><rect x="611.41" y="1055.00" width="5.84" height="11.00" fill="#e6b06c"/><rect x="617.00" y="1015.50" width="5.84" height="50.50" fill="#e4a0bb"/><rect x="617.00" y="1055.00" width="5.84" height="11.00" fill="#d5737d"/><rect x="617.00" y="1060.00" width="5.84" height="6.00" fill="#e6b06c"/><rect x="622.59" y="1031.80" width="5.84" height="34.20" fill="#e4a0bb"/><rect x="622.59" y="1044.20" width="5.84" height="21.80" fill="#d5737d"/><rect x="622.59" y="1055.00" width="5.84" height="11.00" fill="#e6b06c"/><rect x="628.18" y="1003.80" width="5.84" height="62.20" fill="#e4a0bb"/><rect x="628.18" y="1027.00" width="5.84" height="39.00" fill="#d5737d"/><rect x="628.18" y="1027.00" width="5.84" height="39.00" fill="#e6b06c"/><rect x="633.77" y="1003.80" width="5.84" height="62.20" fill="#e4a0bb"/><rect x="633.77" y="1050.00" width="5.84" height="16.00" fill="#d5737d"/><rect x="633.77" y="1063.00" width="5.84" height="3.00" fill="#e6b06c"/><rect x="639.36" y="1003.80" width="5.84" height="62.20" fill="#e4a0bb"/><rect x="639.36" y="1038.80" width="5.84" height="27.20" fill="#d5737d"/><rect x="639.36" y="1055.00" width="5.84" height="11.00" fill="#e6b06c"/><rect x="644.95" y="1020.10" width="5.84" height="45.90" fill="#e4a0bb"/><rect x="644.95" y="1038.80" width="5.84" height="27.20" fill="#d5737d"/><rect x="644.95" y="1044.20" width="5.84" height="21.80" fill="#e6b06c"/><rect x="650.54" y="1055.00" width="5.84" height="11.00" fill="#e4a0bb"/><rect x="650.54" y="1063.00" width="5.84" height="3.00" fill="#d5737d"/><rect x="656.13" y="1038.80" width="5.84" height="27.20" fill="#e4a0bb"/><rect x="656.13" y="1044.20" width="5.84" height="21.80" fill="#d5737d"/><rect x="656.13" y="1055.00" width="5.84" height="11.00" fill="#e6b06c"/><rect x="661.72" y="946.30" width="5.84" height="119.70" fill="#e4a0bb"/><rect x="661.72" y="1044.20" width="5.84" height="21.80" fill="#d5737d"/><rect x="661.72" y="1063.00" width="5.84" height="3.00" fill="#e6b06c"/><rect x="667.31" y="998.40" width="5.84" height="67.60" fill="#e4a0bb"/><rect x="667.31" y="1055.00" width="5.84" height="11.00" fill="#d5737d"/><rect x="667.31" y="1063.00" width="5.84" height="3.00" fill="#e6b06c"/><rect x="672.90" y="1015.50" width="5.84" height="50.50" fill="#e4a0bb"/><rect x="672.90" y="1055.00" width="5.84" height="11.00" fill="#d5737d"/><rect x="678.49" y="1044.20" width="5.84" height="21.80" fill="#e4a0bb"/><rect x="678.49" y="1055.00" width="5.84" height="11.00" fill="#d5737d"/><rect x="684.08" y="1010.00" width="5.84" height="56.00" fill="#e4a0bb"/><rect x="684.08" y="1050.40" width="5.84" height="15.60" fill="#d5737d"/><rect x="684.08" y="1063.00" width="5.84" height="3.00" fill="#e6b06c"/><rect x="689.67" y="1063.00" width="5.84" height="3.00" fill="#e4a0bb"/><rect x="695.26" y="1063.00" width="5.84" height="3.00" fill="#e4a0bb"/><rect x="700.85" y="1044.20" width="5.84" height="21.80" fill="#e4a0bb"/><rect x="700.85" y="1056.60" width="5.84" height="9.40" fill="#d5737d"/><rect x="700.85" y="1063.00" width="5.84" height="3.00" fill="#e6b06c"/><rect x="706.44" y="1050.40" width="5.84" height="15.60" fill="#e4a0bb"/><rect x="706.44" y="1050.40" width="5.84" height="15.60" fill="#d5737d"/><rect x="706.44" y="1050.40" width="5.84" height="15.60" fill="#e6b06c"/><rect x="717.62" y="1055.00" width="5.84" height="11.00" fill="#e4a0bb"/><rect x="717.62" y="1058.00" width="5.84" height="8.00" fill="#d5737d"/><rect x="723.21" y="1063.00" width="5.84" height="3.00" fill="#e4a0bb"/><rect x="728.80" y="1055.00" width="5.84" height="11.00" fill="#e4a0bb"/><rect x="728.80" y="1060.00" width="5.84" height="6.00" fill="#d5737d"/><rect x="734.39" y="1063.00" width="5.84" height="3.00" fill="#e4a0bb"/><rect x="739.98" y="1027.00" width="5.84" height="39.00" fill="#e4a0bb"/><rect x="739.98" y="1050.40" width="5.84" height="15.60" fill="#d5737d"/><rect x="739.98" y="1063.00" width="5.84" height="3.00" fill="#e6b06c"/><rect x="745.57" y="979.70" width="5.84" height="86.30" fill="#e4a0bb"/><rect x="745.57" y="1031.80" width="5.84" height="34.20" fill="#d5737d"/><rect x="745.57" y="1050.40" width="5.84" height="15.60" fill="#e6b06c"/><rect x="751.16" y="998.40" width="5.84" height="67.60" fill="#e4a0bb"/><rect x="751.16" y="1027.00" width="5.84" height="39.00" fill="#d5737d"/><rect x="751.16" y="1050.40" width="5.84" height="15.60" fill="#e6b06c"/><rect x="762.34" y="1050.40" width="5.84" height="15.60" fill="#e4a0bb"/><rect x="762.34" y="1063.00" width="5.84" height="3.00" fill="#d5737d"/><rect x="767.93" y="1063.00" width="5.84" height="3.00" fill="#e4a0bb"/><rect x="773.52" y="1020.10" width="5.84" height="45.90" fill="#e4a0bb"/><rect x="773.52" y="1050.40" width="5.84" height="15.60" fill="#d5737d"/><rect x="773.52" y="1063.00" width="5.84" height="3.00" fill="#e6b06c"/><rect x="779.11" y="991.40" width="5.84" height="74.60" fill="#e4a0bb"/><rect x="779.11" y="1027.00" width="5.84" height="39.00" fill="#d5737d"/><rect x="779.11" y="1063.00" width="5.84" height="3.00" fill="#e6b06c"/><rect x="784.70" y="1050.40" width="5.84" height="15.60" fill="#e4a0bb"/><rect x="784.70" y="1055.00" width="5.84" height="11.00" fill="#d5737d"/><rect x="790.29" y="1031.80" width="5.84" height="34.20" fill="#e4a0bb"/><rect x="790.29" y="1050.40" width="5.84" height="15.60" fill="#d5737d"/><rect x="790.29" y="1060.00" width="5.84" height="6.00" fill="#e6b06c"/><rect x="795.88" y="991.40" width="5.84" height="74.60" fill="#e4a0bb"/><rect x="795.88" y="1031.80" width="5.84" height="34.20" fill="#d5737d"/><rect x="795.88" y="1050.40" width="5.84" height="15.60" fill="#e6b06c"/><rect x="801.47" y="1038.80" width="5.84" height="27.20" fill="#e4a0bb"/><rect x="801.47" y="1055.00" width="5.84" height="11.00" fill="#d5737d"/><rect x="807.06" y="1027.00" width="5.84" height="39.00" fill="#e4a0bb"/><rect x="807.06" y="1050.40" width="5.84" height="15.60" fill="#d5737d"/><rect x="807.06" y="1063.00" width="5.84" height="3.00" fill="#e6b06c"/><rect x="818.24" y="1044.20" width="5.84" height="21.80" fill="#e4a0bb"/><rect x="818.24" y="1055.00" width="5.84" height="11.00" fill="#d5737d"/><rect x="823.83" y="1044.20" width="5.84" height="21.80" fill="#e4a0bb"/><rect x="823.83" y="1055.00" width="5.84" height="11.00" fill="#d5737d"/><rect x="829.42" y="1063.00" width="5.84" height="3.00" fill="#e4a0bb"/><rect x="835.01" y="1055.00" width="5.84" height="11.00" fill="#e4a0bb"/><rect x="835.01" y="1055.00" width="5.84" height="11.00" fill="#d5737d"/><rect x="835.01" y="1055.00" width="5.84" height="11.00" fill="#e6b06c"/><rect x="851.78" y="1038.80" width="5.84" height="27.20" fill="#e4a0bb"/><rect x="851.78" y="1050.40" width="5.84" height="15.60" fill="#d5737d"/><rect x="851.78" y="1063.00" width="5.84" height="3.00" fill="#e6b06c"/><rect x="857.37" y="1031.80" width="5.84" height="34.20" fill="#e4a0bb"/><rect x="857.37" y="1044.00" width="5.84" height="22.00" fill="#d5737d"/><rect x="857.37" y="1044.00" width="5.84" height="22.00" fill="#e6b06c"/><rect x="862.96" y="1050.40" width="5.84" height="15.60" fill="#e4a0bb"/><rect x="862.96" y="1050.40" width="5.84" height="15.60" fill="#d5737d"/><rect x="862.96" y="1063.00" width="5.84" height="3.00" fill="#e6b06c"/><rect x="874.14" y="1050.40" width="5.84" height="15.60" fill="#e4a0bb"/><rect x="874.14" y="1055.00" width="5.84" height="11.00" fill="#d5737d"/><rect x="879.73" y="1038.80" width="5.84" height="27.20" fill="#e4a0bb"/><rect x="879.73" y="1056.60" width="5.84" height="9.40" fill="#d5737d"/><rect x="885.32" y="1063.00" width="5.84" height="3.00" fill="#e4a0bb"/><rect x="890.91" y="1063.00" width="5.84" height="3.00" fill="#e4a0bb"/><rect x="896.50" y="1063.00" width="5.84" height="3.00" fill="#e4a0bb"/><rect x="902.09" y="1050.40" width="5.84" height="15.60" fill="#e4a0bb"/><rect x="902.09" y="1056.00" width="5.84" height="10.00" fill="#d5737d"/><rect x="902.09" y="1063.00" width="5.84" height="3.00" fill="#e6b06c"/><rect x="907.68" y="1027.00" width="5.84" height="39.00" fill="#e4a0bb"/><rect x="907.68" y="1027.00" width="5.84" height="39.00" fill="#d5737d"/><rect x="907.68" y="1052.00" width="5.84" height="14.00" fill="#e6b06c"/><rect x="913.27" y="968.00" width="5.84" height="98.00" fill="#e4a0bb"/><rect x="913.27" y="1027.00" width="5.84" height="39.00" fill="#d5737d"/><rect x="913.27" y="1050.40" width="5.84" height="15.60" fill="#e6b06c"/><rect x="918.86" y="926.90" width="5.84" height="139.10" fill="#e4a0bb"/><rect x="918.86" y="1031.00" width="5.84" height="35.00" fill="#d5737d"/><rect x="918.86" y="1050.00" width="5.84" height="16.00" fill="#e6b06c"/><rect x="924.45" y="975.00" width="5.84" height="91.00" fill="#e4a0bb"/><rect x="924.45" y="1031.80" width="5.84" height="34.20" fill="#d5737d"/><rect x="924.45" y="1044.20" width="5.84" height="21.80" fill="#e6b06c"/><rect x="930.04" y="1015.50" width="5.84" height="50.50" fill="#e4a0bb"/><rect x="930.04" y="1050.40" width="5.84" height="15.60" fill="#d5737d"/><rect x="930.04" y="1060.00" width="5.84" height="6.00" fill="#e6b06c"/><rect x="935.63" y="1020.10" width="5.84" height="45.90" fill="#e4a0bb"/><rect x="935.63" y="1055.00" width="5.84" height="11.00" fill="#d5737d"/><rect x="935.63" y="1063.00" width="5.84" height="3.00" fill="#e6b06c"/><rect x="941.22" y="1063.00" width="5.84" height="3.00" fill="#e4a0bb"/><rect x="952.40" y="1055.00" width="5.84" height="11.00" fill="#e4a0bb"/><rect x="952.40" y="1063.00" width="5.84" height="3.00" fill="#d5737d"/><rect x="1074.00" y="921.00" width="331.00" height="2.20" fill="#efefef"/><rect x="1074.00" y="969.00" width="331.00" height="2.20" fill="#efefef"/><rect x="1074.00" y="1017.00" width="331.00" height="2.20" fill="#efefef"/><rect x="1076.00" y="1047.20" width="43.00" height="16.80" fill="#e4a0bb"/><rect x="1076.00" y="1055.60" width="43.00" height="8.40" fill="#d5737d"/><rect x="1076.00" y="1059.40" width="43.00" height="4.60" fill="#e6b06c"/><rect x="1124.30" y="994.80" width="41.90" height="69.20" fill="#e4a0bb"/><rect x="1124.30" y="1035.70" width="41.90" height="28.30" fill="#d5737d"/><rect x="1124.30" y="1050.40" width="41.90" height="13.60" fill="#e6b06c"/><rect x="1171.40" y="1011.60" width="42.00" height="52.40" fill="#e4a0bb"/><rect x="1171.40" y="1038.80" width="42.00" height="25.20" fill="#d5737d"/><rect x="1171.40" y="1056.70" width="42.00" height="7.30" fill="#e6b06c"/><rect x="1219.60" y="906.80" width="43.00" height="157.20" fill="#e4a0bb"/><rect x="1219.60" y="1009.90" width="43.00" height="54.10" fill="#d5737d"/><rect x="1219.60" y="1041.40" width="43.00" height="22.60" fill="#e6b06c"/><rect x="1267.40" y="950.80" width="42.80" height="113.20" fill="#e4a0bb"/><rect x="1267.40" y="1028.40" width="42.80" height="35.60" fill="#d5737d"/><rect x="1267.40" y="1056.70" width="42.80" height="7.30" fill="#e6b06c"/><rect x="1314.40" y="1000.00" width="42.60" height="64.00" fill="#e4a0bb"/><rect x="1314.40" y="1038.40" width="42.60" height="25.60" fill="#d5737d"/><rect x="1314.40" y="1053.50" width="42.60" height="10.50" fill="#e6b06c"/><rect x="1362.20" y="1055.60" width="43.00" height="8.40" fill="#e4a0bb"/><rect x="1362.20" y="1058.80" width="43.00" height="5.20" fill="#d5737d"/><rect x="1469.00" y="930.30" width="527.00" height="2.20" fill="#efefef"/><rect x="1469.00" y="964.00" width="527.00" height="2.20" fill="#efefef"/><rect x="1469.00" y="998.10" width="527.00" height="2.20" fill="#efefef"/><rect x="1469.00" y="1030.40" width="527.00" height="2.20" fill="#efefef"/><rect x="1472.80" y="1028.50" width="28.00" height="36.10" fill="#e4a0bb"/><rect x="1472.80" y="1039.50" width="28.00" height="25.10" fill="#d5737d"/><rect x="1472.80" y="1048.20" width="28.00" height="16.40" fill="#e6b06c"/><rect x="1503.55" y="1035.70" width="28.00" height="28.90" fill="#e4a0bb"/><rect x="1503.55" y="1046.70" width="28.00" height="17.90" fill="#d5737d"/><rect x="1503.55" y="1062.30" width="28.00" height="2.30" fill="#e6b06c"/><rect x="1534.30" y="998.20" width="28.00" height="66.40" fill="#e4a0bb"/><rect x="1534.30" y="1040.00" width="28.00" height="24.60" fill="#d5737d"/><rect x="1534.30" y="1055.00" width="28.00" height="9.60" fill="#e6b06c"/><rect x="1565.05" y="1030.50" width="28.00" height="34.10" fill="#e4a0bb"/><rect x="1565.05" y="1046.70" width="28.00" height="17.90" fill="#d5737d"/><rect x="1565.05" y="1059.70" width="28.00" height="4.90" fill="#e6b06c"/><rect x="1595.80" y="996.50" width="28.00" height="68.10" fill="#e4a0bb"/><rect x="1595.80" y="1035.20" width="28.00" height="29.40" fill="#d5737d"/><rect x="1595.80" y="1055.00" width="28.00" height="9.60" fill="#e6b06c"/><rect x="1626.55" y="999.70" width="28.00" height="64.90" fill="#e4a0bb"/><rect x="1626.55" y="1035.20" width="28.00" height="29.40" fill="#d5737d"/><rect x="1626.55" y="1053.90" width="28.00" height="10.70" fill="#e6b06c"/><rect x="1657.30" y="1019.00" width="28.00" height="45.60" fill="#e4a0bb"/><rect x="1657.30" y="1041.50" width="28.00" height="23.10" fill="#d5737d"/><rect x="1657.30" y="1056.00" width="28.00" height="8.60" fill="#e6b06c"/><rect x="1688.05" y="998.20" width="28.00" height="66.40" fill="#e4a0bb"/><rect x="1688.05" y="1037.20" width="28.00" height="27.40" fill="#d5737d"/><rect x="1688.05" y="1046.70" width="28.00" height="17.90" fill="#e6b06c"/><rect x="1718.80" y="1001.70" width="28.00" height="62.90" fill="#e4a0bb"/><rect x="1718.80" y="1047.30" width="28.00" height="17.30" fill="#d5737d"/><rect x="1718.80" y="1062.30" width="28.00" height="2.30" fill="#e6b06c"/><rect x="1749.55" y="982.90" width="28.00" height="81.70" fill="#e4a0bb"/><rect x="1749.55" y="1030.00" width="28.00" height="34.60" fill="#d5737d"/><rect x="1749.55" y="1053.90" width="28.00" height="10.70" fill="#e6b06c"/><rect x="1780.30" y="906.50" width="28.00" height="158.10" fill="#e4a0bb"/><rect x="1780.30" y="1009.80" width="28.00" height="54.80" fill="#d5737d"/><rect x="1780.30" y="1039.50" width="28.00" height="25.10" fill="#e6b06c"/><rect x="1811.05" y="952.00" width="28.00" height="112.60" fill="#e4a0bb"/><rect x="1811.05" y="1040.00" width="28.00" height="24.60" fill="#d5737d"/><rect x="1811.05" y="1062.30" width="28.00" height="2.30" fill="#e6b06c"/><rect x="1841.80" y="950.60" width="28.00" height="114.00" fill="#e4a0bb"/><rect x="1841.80" y="1011.20" width="28.00" height="53.40" fill="#d5737d"/><rect x="1841.80" y="1043.00" width="28.00" height="21.60" fill="#e6b06c"/><rect x="1872.55" y="913.70" width="28.00" height="150.90" fill="#e4a0bb"/><rect x="1872.55" y="1035.20" width="28.00" height="29.40" fill="#d5737d"/><rect x="1872.55" y="1053.90" width="28.00" height="10.70" fill="#e6b06c"/><rect x="1903.30" y="960.70" width="28.00" height="103.90" fill="#e4a0bb"/><rect x="1903.30" y="1032.90" width="28.00" height="31.70" fill="#d5737d"/><rect x="1903.30" y="1055.00" width="28.00" height="9.60" fill="#e6b06c"/><rect x="1934.05" y="967.30" width="28.00" height="97.30" fill="#e4a0bb"/><rect x="1934.05" y="1028.50" width="28.00" height="36.10" fill="#d5737d"/><rect x="1934.05" y="1058.30" width="28.00" height="6.30" fill="#e6b06c"/><rect x="1964.80" y="1003.40" width="28.00" height="61.20" fill="#e4a0bb"/><rect x="1964.80" y="1053.00" width="28.00" height="11.60" fill="#d5737d"/><rect x="1964.80" y="1059.70" width="28.00" height="4.90" fill="#e6b06c"/><rect x="1995.55" y="979.50" width="28.00" height="85.10" fill="#e4a0bb"/><rect x="1995.55" y="1040.00" width="28.00" height="24.60" fill="#d5737d"/><rect x="1995.55" y="1058.00" width="28.00" height="6.60" fill="#e6b06c"/></svg>
<div style="position:absolute;left:-548.3px;width:1200px;text-align:center;top:1084.4px;font-size:20px;line-height:20px;height:20px;color:#8a8a8a;font-weight:400;letter-spacing:0.82px;white-space:nowrap;-webkit-text-stroke:0.25px #8a8a8a;">Nov 16</div>
<div style="position:absolute;left:-415.6px;width:1200px;text-align:center;top:1084.4px;font-size:20px;line-height:20px;height:20px;color:#8a8a8a;font-weight:400;letter-spacing:0.84px;white-space:nowrap;-webkit-text-stroke:0.25px #8a8a8a;">Nov 17</div>
<div style="position:absolute;left:-280.0px;width:1200px;text-align:center;top:1084.4px;font-size:20px;line-height:20px;height:20px;color:#8a8a8a;font-weight:400;letter-spacing:0.82px;white-space:nowrap;-webkit-text-stroke:0.25px #8a8a8a;">Nov 18</div>
<div style="position:absolute;left:-146.4px;width:1200px;text-align:center;top:1084.4px;font-size:20px;line-height:20px;height:20px;color:#8a8a8a;font-weight:400;letter-spacing:0.84px;white-space:nowrap;-webkit-text-stroke:0.25px #8a8a8a;">Nov 19</div>
<div style="position:absolute;left:-11.9px;width:1200px;text-align:center;top:1084.4px;font-size:20px;line-height:20px;height:20px;color:#8a8a8a;font-weight:400;letter-spacing:0.8px;white-space:nowrap;-webkit-text-stroke:0.25px #8a8a8a;">Nov 20</div>
<div style="position:absolute;left:123.1px;width:1200px;text-align:center;top:1084.4px;font-size:20px;line-height:20px;height:20px;color:#8a8a8a;font-weight:400;letter-spacing:0.84px;white-space:nowrap;-webkit-text-stroke:0.25px #8a8a8a;">Nov 21</div>
<div style="position:absolute;left:256.6px;width:1200px;text-align:center;top:1084.4px;font-size:20px;line-height:20px;height:20px;color:#8a8a8a;font-weight:400;letter-spacing:0.84px;white-space:nowrap;-webkit-text-stroke:0.25px #8a8a8a;">Nov 22</div>
<div style="position:absolute;left:940.1px;top:1084.4px;font-size:20px;line-height:20px;height:20px;color:#8a8a8a;font-weight:400;letter-spacing:0.82px;white-space:nowrap;-webkit-text-stroke:0.25px #8a8a8a;">Nov 23</div>
<div style="position:absolute;right:933.0px;text-align:right;top:911.6px;font-size:20px;line-height:20px;height:20px;color:#8a8a8a;font-weight:400;letter-spacing:1.55px;white-space:nowrap;-webkit-text-stroke:0.25px #8a8a8a;">300</div>
<div style="position:absolute;right:932.9px;text-align:right;top:959.1px;font-size:20px;line-height:20px;height:20px;color:#8a8a8a;font-weight:400;letter-spacing:1.7px;white-space:nowrap;-webkit-text-stroke:0.25px #8a8a8a;">200</div>
<div style="position:absolute;right:932.6px;text-align:right;top:1007.6px;font-size:20px;line-height:20px;height:20px;color:#8a8a8a;font-weight:400;letter-spacing:1.95px;white-space:nowrap;-webkit-text-stroke:0.25px #8a8a8a;">100</div>
<div style="position:absolute;right:934.6px;text-align:right;top:1039.6px;font-size:20px;line-height:20px;height:20px;color:#8a8a8a;font-weight:400;white-space:nowrap;-webkit-text-stroke:0.25px #8a8a8a;">0</div>
<div style="position:absolute;left:497.0px;width:1200px;text-align:center;top:1077.3px;font-size:19px;line-height:19px;height:19px;color:#8a8a8a;font-weight:400;white-space:nowrap;-webkit-text-stroke:0.25px #8a8a8a;">S</div>
<div style="position:absolute;left:546.3px;width:1200px;text-align:center;top:1077.3px;font-size:19px;line-height:19px;height:19px;color:#8a8a8a;font-weight:400;white-space:nowrap;-webkit-text-stroke:0.25px #8a8a8a;">M</div>
<div style="position:absolute;left:593.0px;width:1200px;text-align:center;top:1077.3px;font-size:19px;line-height:19px;height:19px;color:#8a8a8a;font-weight:400;white-space:nowrap;-webkit-text-stroke:0.25px #8a8a8a;">T</div>
<div style="position:absolute;left:640.4px;width:1200px;text-align:center;top:1077.3px;font-size:19px;line-height:19px;height:19px;color:#8a8a8a;font-weight:400;white-space:nowrap;-webkit-text-stroke:0.25px #8a8a8a;">W</div>
<div style="position:absolute;left:688.0px;width:1200px;text-align:center;top:1077.3px;font-size:19px;line-height:19px;height:19px;color:#8a8a8a;font-weight:400;white-space:nowrap;-webkit-text-stroke:0.25px #8a8a8a;">T</div>
<div style="position:absolute;left:735.3px;width:1200px;text-align:center;top:1077.3px;font-size:19px;line-height:19px;height:19px;color:#8a8a8a;font-weight:400;white-space:nowrap;-webkit-text-stroke:0.25px #8a8a8a;">F</div>
<div style="position:absolute;left:782.0px;width:1200px;text-align:center;top:1077.3px;font-size:19px;line-height:19px;height:19px;color:#8a8a8a;font-weight:400;white-space:nowrap;-webkit-text-stroke:0.25px #8a8a8a;">S</div>
<div style="position:absolute;right:535.8px;text-align:right;top:921.6px;font-size:20px;line-height:20px;height:20px;color:#8a8a8a;font-weight:400;letter-spacing:1.2px;white-space:nowrap;-webkit-text-stroke:0.25px #8a8a8a;">80</div>
<div style="position:absolute;right:535.8px;text-align:right;top:955.6px;font-size:20px;line-height:20px;height:20px;color:#8a8a8a;font-weight:400;letter-spacing:1.2px;white-space:nowrap;-webkit-text-stroke:0.25px #8a8a8a;">60</div>
<div style="position:absolute;right:535.8px;text-align:right;top:989.6px;font-size:20px;line-height:20px;height:20px;color:#8a8a8a;font-weight:400;letter-spacing:1.2px;white-space:nowrap;-webkit-text-stroke:0.25px #8a8a8a;">40</div>
<div style="position:absolute;right:535.8px;text-align:right;top:1021.6px;font-size:20px;line-height:20px;height:20px;color:#8a8a8a;font-weight:400;letter-spacing:1.2px;white-space:nowrap;-webkit-text-stroke:0.25px #8a8a8a;">20</div>
<div style="position:absolute;left:916.1px;width:1200px;text-align:center;top:1077.4px;font-size:20px;line-height:20px;height:20px;color:#8a8a8a;font-weight:400;white-space:nowrap;-webkit-text-stroke:0.25px #8a8a8a;">1</div>
<div style="position:absolute;left:977.6px;width:1200px;text-align:center;top:1077.4px;font-size:20px;line-height:20px;height:20px;color:#8a8a8a;font-weight:400;white-space:nowrap;-webkit-text-stroke:0.25px #8a8a8a;">3</div>
<div style="position:absolute;left:1039.1px;width:1200px;text-align:center;top:1077.4px;font-size:20px;line-height:20px;height:20px;color:#8a8a8a;font-weight:400;white-space:nowrap;-webkit-text-stroke:0.25px #8a8a8a;">5</div>
<div style="position:absolute;left:1100.6px;width:1200px;text-align:center;top:1077.4px;font-size:20px;line-height:20px;height:20px;color:#8a8a8a;font-weight:400;white-space:nowrap;-webkit-text-stroke:0.25px #8a8a8a;">7</div>
<div style="position:absolute;left:1162.1px;width:1200px;text-align:center;top:1077.4px;font-size:20px;line-height:20px;height:20px;color:#8a8a8a;font-weight:400;white-space:nowrap;-webkit-text-stroke:0.25px #8a8a8a;">9</div>
<div style="position:absolute;left:1224.0px;width:1200px;text-align:center;top:1077.4px;font-size:20px;line-height:20px;height:20px;color:#8a8a8a;font-weight:400;letter-spacing:0.8px;white-space:nowrap;-webkit-text-stroke:0.25px #8a8a8a;">11</div>
<div style="position:absolute;left:1285.5px;width:1200px;text-align:center;top:1077.4px;font-size:20px;line-height:20px;height:20px;color:#8a8a8a;font-weight:400;letter-spacing:0.8px;white-space:nowrap;-webkit-text-stroke:0.25px #8a8a8a;">13</div>
<div style="position:absolute;left:1347.0px;width:1200px;text-align:center;top:1077.4px;font-size:20px;line-height:20px;height:20px;color:#8a8a8a;font-weight:400;letter-spacing:0.8px;white-space:nowrap;-webkit-text-stroke:0.25px #8a8a8a;">15</div>
<div style="position:absolute;left:1408.5px;width:1200px;text-align:center;top:1077.4px;font-size:20px;line-height:20px;height:20px;color:#8a8a8a;font-weight:400;letter-spacing:0.8px;white-space:nowrap;-webkit-text-stroke:0.25px #8a8a8a;">17</div>
</div></body></html>
